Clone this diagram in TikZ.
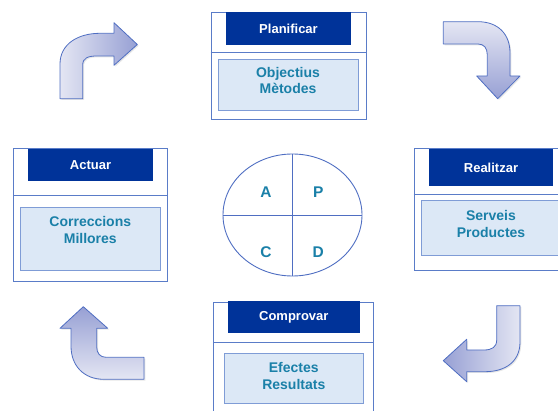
\documentclass[tikz,border=0pt]{standalone}
\usepackage{fontspec}
\setmainfont{Liberation Sans}
\usetikzlibrary{shapes.geometric,shadows}
\definecolor{hdr}{HTML}{003399}
\definecolor{boxline}{HTML}{5A7CC8}
\definecolor{innerfill}{HTML}{DCE8F6}
\definecolor{innerline}{HTML}{7F9CD6}
\definecolor{txtblue}{HTML}{1A80A8}
\definecolor{arrline}{HTML}{4F6EC2}
\definecolor{arrlight}{HTML}{E4E6F3}
\definecolor{arrdark}{HTML}{97A0D4}
\tikzset{
  outerbox/.style={draw=boxline, line width=0.9pt, fill=white, rectangle, inner sep=0pt},
  hdrbox/.style={fill=hdr, rectangle, inner sep=0pt, text=white, font=\bfseries\fontsize{13}{15}\selectfont},
  innerbox/.style={draw=innerline, line width=0.9pt, fill=innerfill, rectangle, inner sep=0pt},
  innertxt/.style={text=txtblue, align=center, inner sep=0pt, font=\bfseries\fontsize{14}{17}\selectfont},
  divline/.style={draw=boxline, line width=0.9pt},
  letter/.style={text=txtblue, inner sep=0pt, font=\bfseries\fontsize{15.5}{18}\selectfont},
  cyc/.style={draw=arrline, line width=0.8pt, line join=round,
    drop shadow={shadow xshift=1.3pt, shadow yshift=-1.3pt, opacity=0.2}},
}
\begin{document}
\begin{tikzpicture}[x=1pt,y=-1pt]
\useasboundingbox (0,0) rectangle (558,411);
\clip (0,0) rectangle (558,411);

% ---- Planificar
\node[outerbox, minimum width=155pt, minimum height=107pt] (p-out) at (288.5,65.5) {};
\draw[divline] (p-out.west |- 0,52) -- (p-out.east |- 0,52);
\node[hdrbox, minimum width=125pt, minimum height=33pt] (p-hdr) at (288.5,28.5) {Planificar};
\node[innerbox, minimum width=140pt, minimum height=51pt] (p-in) at (288,84.5) {};
\node[innertxt] (p-txt) at (288,80.5) {Objectius\\Mètodes};

% ---- Actuar
\node[outerbox, minimum width=154pt, minimum height=132.7pt] (a-out) at (90.3,214.7) {};
\draw[divline] (a-out.west |- 0,195) -- (a-out.east |- 0,195);
\node[hdrbox, minimum width=124.4pt, minimum height=32pt] (a-hdr) at (90.5,165.3) {Actuar};
\node[innerbox, minimum width=139.3pt, minimum height=62.7pt] (a-in) at (90.3,238.7) {};
\node[innertxt] (a-txt) at (90.3,230) {Correccions\\Millores};

% ---- Realitzar
\node[outerbox, minimum width=155pt, minimum height=121.7pt] (r-out) at (491.5,209.2) {};
\draw[divline] (r-out.west |- 0,194) -- (r-out.east |- 0,194);
\node[hdrbox, minimum width=123.4pt, minimum height=36.4pt] (r-hdr) at (491,167.5) {Realitzar};
\node[innerbox, minimum width=140pt, minimum height=54.7pt] (r-in) at (491.7,228.3) {};
\node[innertxt] (r-txt) at (491,223.7) {Serveis\\Productes};

% ---- Comprovar
\node[outerbox, minimum width=160.4pt, minimum height=117.7pt] (c-out) at (293.5,361.2) {};
\draw[divline] (c-out.west |- 0,342.7) -- (c-out.east |- 0,342.7);
\node[hdrbox, minimum width=132.3pt, minimum height=32.6pt] (c-hdr) at (293.8,317) {Comprovar};
\node[innerbox, minimum width=139.7pt, minimum height=50pt] (c-in) at (293.8,378.3) {};
\node[innertxt] (c-txt) at (293.8,375.8) {Efectes\\Resultats};

% ---- PDCA ellipse
\node[ellipse, draw=arrline, line width=0.9pt, minimum width=139pt, minimum height=122pt, inner sep=0pt] (pdca) at (292.5,215) {};
\draw[draw=arrline, line width=0.9pt] (pdca.north) -- (pdca.south);
\draw[draw=arrline, line width=0.9pt] (pdca.west) -- (pdca.east);
\node[letter] (lA) at (266,191.7) {A};
\node[letter] (lP) at (318.3,191.7) {P};
\node[letter] (lC) at (266,251.7) {C};
\node[letter] (lD) at (318.3,251.7) {D};

% ---- cycle arrows
% top-left (up then right)
\path[cyc, left color=arrlight, right color=arrdark]
  (60,98.7) -- (60,64) .. controls (60,44) and (78,33.3) .. (100,33.3)
  -- (114,33.3) -- (114,22.7) -- (137.3,44.5) -- (114,65.3) -- (114,56)
  -- (97,56) .. controls (88,56) and (82.7,58) .. (82.7,65) -- (82.7,98.7) -- cycle;
% top-right (right then down)
\path[cyc, top color=arrlight, bottom color=arrdark]
  (443.3,21.7) -- (478,21.7) .. controls (498,21.7) and (510,34) .. (510,53)
  -- (510,76) -- (520,76) -- (497.7,98.7) -- (476.7,76) -- (487.3,76)
  -- (487.3,55) .. controls (487.3,48) and (484,44) .. (478,44) -- (443.3,44) -- cycle;
% bottom-right (down then left)
\path[cyc, right color=arrlight, left color=arrdark]
  (496.7,305.7) -- (520,305.7) -- (520,342) .. controls (520,362) and (505,371.7) .. (485,371.7)
  -- (466.7,371.7) -- (466.7,381.7) -- (443.3,360.7) -- (466.7,339.3) -- (466.7,350)
  -- (484,350) .. controls (492,350) and (496.7,347) .. (496.7,340) -- cycle;
% bottom-left (left then up)
\path[cyc, bottom color=arrlight, top color=arrdark]
  (144,357.3) -- (144,379.3) -- (104,379.3) .. controls (84,379.3) and (71,366) .. (71,346)
  -- (71,328.3) -- (60,328.3) -- (83.3,306.7) -- (107.7,328.3) -- (96.7,328.3)
  -- (96.7,347) .. controls (96.7,353) and (100,357.3) .. (106,357.3) -- cycle;
\end{tikzpicture}
\end{document}
